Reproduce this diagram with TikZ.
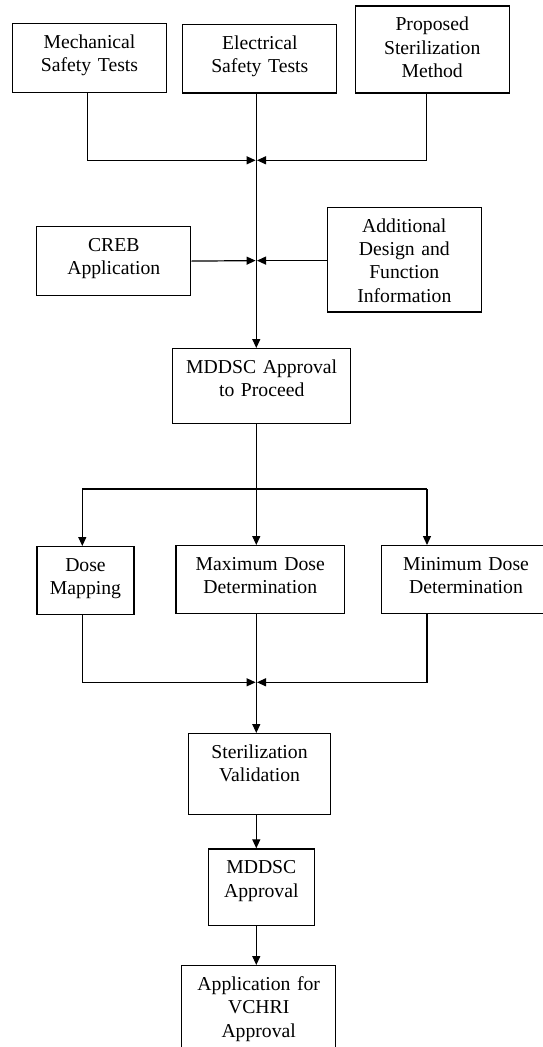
\documentclass[tikz,border=0pt]{standalone}
\usepackage{fontspec}
\setmainfont{Liberation Serif}
\usetikzlibrary{arrows.meta}
\tikzset{
  blk/.style={draw=black,line width=1.2pt,inner sep=0pt,anchor=north,align=center,
    font=\fontsize{19.7pt}{23.3pt}\selectfont,text height=25pt},
  flow/.style={draw=black,line width=1.2pt,-{Triangle[length=9pt,width=8pt]}},
  rail/.style={draw=black,line width=1.2pt},
}

\begin{document}
\begin{tikzpicture}[x=1pt,y=-1pt]
\useasboundingbox (0,0) rectangle (543,1047);
% first review: safety tests and method
\node[blk,text width=154pt,text depth=44pt] (mech) at (89.5,22.7) {Mechanical\\Safety Tests};
\node[blk,text width=154pt,text depth=43.3pt] (elec) at (259.8,24) {Electrical\\Safety Tests};
\node[blk,text width=154pt,text depth=62pt] (prop) at (432.2,5.3) {Proposed\\Sterilization\\Method};
\node[blk,text width=154pt,text depth=44pt] (creb) at (113.8,226) {CREB\\Application};
\node[blk,text width=154pt,text depth=79.6pt] (addl) at (404.3,206.7) {Additional\\Design and\\Function\\Information};
\node[blk,text width=178pt,text depth=49.7pt] (proceed) at (261.7,348) {MDDSC Approval\\to Proceed};
% dose studies
\node[blk,text width=97pt,text depth=43pt] (dosemap) at (85.5,546) {Dose\\Mapping};
\node[blk,text width=168.5pt,text depth=43pt] (maxdose) at (260.2,545) {Maximum Dose\\Determination};
\node[blk,text width=168.5pt,text depth=43pt] (mindose) at (466,545) {Minimum Dose\\Determination};
% validation and approvals
\node[blk,text width=141.6pt,text depth=56pt] (steril) at (259.5,733) {Sterilization\\Validation};
\node[blk,text width=106pt,text depth=51.7pt] (mddsc) at (261.3,848.3) {MDDSC\\Approval};
\node[blk,text width=154pt,text depth=75pt] (vchri) at (258.7,965) {Application for\\VCHRI\\Approval};

\coordinate (m1) at (256.3,160.3); \coordinate (m2) at (256.3,260.6);
\coordinate (fork) at (256.3,489); \coordinate (forkL) at (82.3,489);
\coordinate (forkR) at (427,489); \coordinate (m3) at (256.3,682.3);

\draw[flow] (elec.south -| m1) -- (proceed.north -| m1);
\draw[flow] ([xshift=-2.2pt]mech.south) |- ([xshift=-.7pt]m1);
\draw[flow] ([xshift=-5.5pt]prop.south) |- ([xshift=.7pt]m1);
\draw[flow] (creb.east) -- ([xshift=-.7pt]m2);
\draw[flow] (addl.west |- m2) -- ([xshift=.7pt]m2);
\draw[rail] (proceed.south -| fork) -- (fork);
\draw[rail] (forkL) -- (forkR);
\draw[flow] (fork) -- (maxdose.north -| fork);
\draw[flow] (forkL) -- (dosemap.north -| forkL);
\draw[flow] (forkR) -- (mindose.north -| forkR);
\draw[flow] (dosemap.south -| forkL) |- ([xshift=-.7pt]m3);
\draw[flow] (mindose.south -| forkR) |- ([xshift=.7pt]m3);
\draw[flow] (maxdose.south -| m3) -- (steril.north -| m3);
\draw[flow] (steril.south -| m3) -- (mddsc.north -| m3);
\draw[flow] (mddsc.south -| m3) -- (vchri.north -| m3);
\end{tikzpicture}
\end{document}
